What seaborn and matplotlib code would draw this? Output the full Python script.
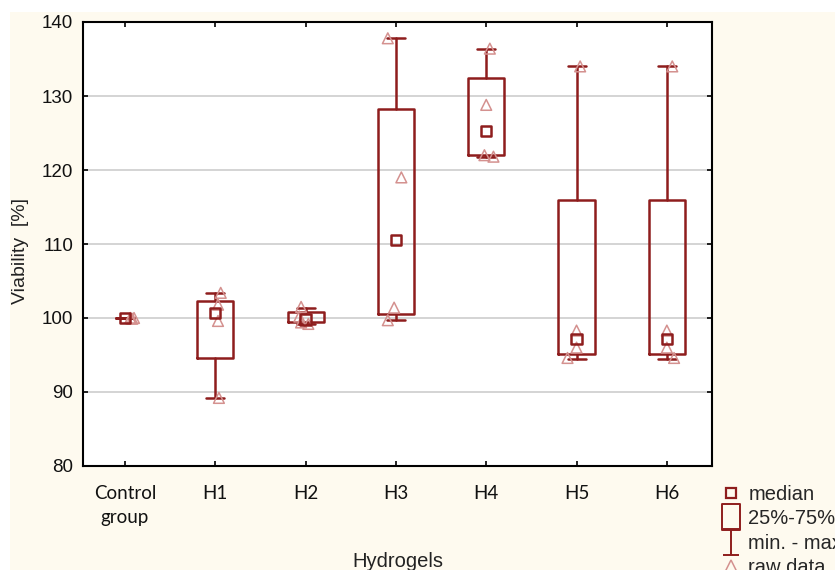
import numpy as np
import pandas as pd
import matplotlib
matplotlib.use("Agg")
import matplotlib.pyplot as plt
from matplotlib.path import Path
from matplotlib.lines import Line2D
from matplotlib.patches import Rectangle
import seaborn as sns

# ---- data ----
groups = ["Control\ngroup", "H1", "H2", "H3", "H4", "H5", "H6"]
medians = [100.0, 100.7, 99.8, 110.5, 125.3, 97.2, 97.2]
q1 = [100.0, 94.6, 99.4, 100.6, 122.0, 95.2, 95.2]
q3 = [100.0, 102.3, 100.8, 128.3, 132.4, 116.0, 116.0]
mins = [100.0, 89.2, 99.2, 99.7, 121.7, 94.5, 94.5]
maxs = [100.0, 103.4, 101.4, 137.8, 136.4, 134.0, 134.0]

raw_group = [0, 0, 0, 0,
             1, 1, 1, 1,
             2, 2, 2, 2,
             3, 3, 3, 3,
             4, 4, 4, 4,
             5, 5, 5, 5,
             6, 6, 6, 6]
raw_value = [100.0, 100.0, 99.9, 100.0,
             103.4, 101.8, 99.6, 89.2,
             101.5, 100.2, 99.4, 99.2,
             137.8, 119.0, 101.4, 99.7,
             136.4, 128.8, 122.0, 121.8,
             134.0, 98.3, 96.0, 94.6,
             134.0, 98.3, 96.0, 94.6]
# small horizontal placement of the raw-data triangles (layout only)
raw_shift = [0.06, 0.10, 0.08, 0.06,
             0.06, 0.03, 0.03, 0.04,
             -0.05, -0.07, -0.05, 0.03,
             -0.09, 0.06, -0.02, -0.09,
             0.04, 0.0, -0.02, 0.08,
             0.04, 0.0, 0.0, -0.1,
             0.06, 0.0, 0.0, 0.08]
box_widths = [0.2, 0.4, 0.4, 0.4, 0.4, 0.4, 0.4]

DARK = "#8e1d1d"
LIGHT = "#d4918f"
CREAM = "#fefaef"

sns.set_theme(style="white")
plt.rcParams["font.family"] = ["Liberation Sans", "DejaVu Sans"]

fig = plt.figure(figsize=(8.35, 5.7), dpi=100, facecolor="white")
fig.patches.append(Rectangle((10 / 835, 0), 1, 1 - 12 / 570, transform=fig.transFigure,
                             facecolor=CREAM, edgecolor="none", zorder=-10))
ax = fig.add_axes([83 / 835, 1 - 466 / 570, (712 - 83) / 835, (466 - 22) / 570])
ax.set_facecolor("white")

pos = np.arange(len(groups))
stats = [dict(med=m, q1=a, q3=b, whislo=lo, whishi=hi, fliers=[])
         for m, a, b, lo, hi in zip(medians, q1, q3, mins, maxs)]
ax.bxp(stats, positions=pos, widths=box_widths, capwidths=0.2, showfliers=False,
       boxprops=dict(color=DARK, linewidth=1.8),
       whiskerprops=dict(color=DARK, linewidth=1.8),
       capprops=dict(color=DARK, linewidth=1.8),
       medianprops=dict(linewidth=0, alpha=0), manage_ticks=False, zorder=2)

raw_df = pd.DataFrame({"x": np.array(raw_group) + np.array(raw_shift), "v": raw_value})
sns.scatterplot(data=raw_df, x="x", y="v", ax=ax, marker="^", s=60,
                facecolor="none", edgecolor=LIGHT, linewidth=1.1, zorder=3, legend=False)

med_df = pd.DataFrame({"x": pos, "v": medians})
sns.scatterplot(data=med_df, x="x", y="v", ax=ax, marker="s", s=55,
                facecolor="none", edgecolor=DARK, linewidth=1.8, zorder=4, legend=False)

ax.set_xlim(-0.465, 6.5)
ax.set_ylim(80, 140)
ax.set_yticks(np.arange(80, 141, 10))
ax.set_xticks(pos)
ax.set_xticklabels(groups, fontfamily="Lato", fontsize=13.5, color="#111111",
                   linespacing=1.45)
ax.tick_params(axis="y", labelsize=13.5, labelcolor="#111111")
ax.tick_params(direction="in", length=3.5, width=1.2, color="black",
               top=True, right=True, bottom=True, left=True, pad=7)
ax.tick_params(axis="x", pad=14)
ax.grid(axis="y", color="#d4d4d4", linewidth=1.4)
ax.set_axisbelow(True)
for sp in ax.spines.values():
    sp.set_color("black")
    sp.set_linewidth(1.5)

ax.set_xlabel("Hydrogels", fontsize=14.5, color="#222222")
ax.set_ylabel("Viability  [%]", fontsize=14, color="#222222")
ax.xaxis.set_label_coords((398 - 83) / (712 - 83), -(552 - 466) / (466 - 22))
ax.yaxis.set_label_coords(-(83 - 29) / (712 - 83), (466 - 251) / (466 - 22))

# legend handles
rect_path = Path([(-0.65, -1), (0.65, -1), (0.65, 1), (-0.65, 1), (-0.65, -1)],
                 [Path.MOVETO, Path.LINETO, Path.LINETO, Path.LINETO, Path.CLOSEPOLY])
i_path = Path([(-0.6, 1), (0.6, 1), (0, 1), (0, -1), (-0.6, -1), (0.6, -1)],
              [Path.MOVETO, Path.LINETO, Path.MOVETO, Path.LINETO, Path.MOVETO, Path.LINETO])
handles = [
    Line2D([], [], linestyle="none", marker="s", markersize=7, markerfacecolor="none",
           markeredgecolor=DARK, markeredgewidth=1.6),
    Line2D([], [], linestyle="none", marker=rect_path, markersize=19, markerfacecolor="none",
           markeredgecolor=DARK, markeredgewidth=1.4),
    Line2D([], [], linestyle="none", marker=i_path, markersize=19, markerfacecolor="none",
           markeredgecolor=DARK, markeredgewidth=1.4),
    Line2D([], [], linestyle="none", marker="^", markersize=9, markerfacecolor="none",
           markeredgecolor=LIGHT, markeredgewidth=1.1),
]
labels = ["median", "25%-75%", "min. - max", "raw data"]
fig.legend(handles, labels, loc="upper left", bbox_to_anchor=(721 / 835, 1 - 485 / 570),
           frameon=False, fontsize=14.5, handlelength=1.0, handletextpad=0.35,
           labelspacing=0.27, borderpad=0, borderaxespad=0)

fig.savefig("out.png", dpi=100, facecolor=fig.get_facecolor())
